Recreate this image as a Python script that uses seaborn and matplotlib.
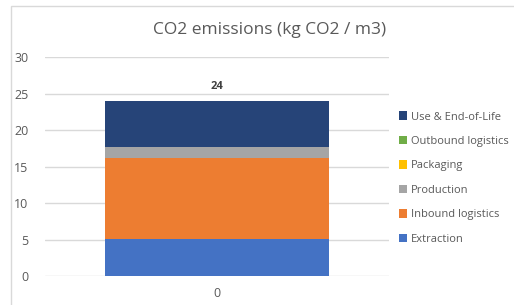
import matplotlib
matplotlib.use("Agg")
import matplotlib.pyplot as plt
import seaborn as sns
import pandas as pd
from matplotlib.patches import Rectangle, Patch

# stages, bottom to top
stages = ["Extraction", "Inbound logistics", "Production", "Packaging",
          "Outbound logistics", "Use & End-of-Life"]
values = [5.1, 11.1, 1.5, 0.0, 0.0, 6.3]
colors = ["#4472c4", "#ed7d31", "#a5a5a5", "#ffc000", "#70ad47", "#264478"]
category = ["0"]

sns.set_style("white")
plt.rcParams["font.family"] = ["Open Sans", "DejaVu Sans"]
text_col = "#595959"

fig = plt.figure(figsize=(5.14, 3.05), dpi=100)
ax = fig.add_axes([0.0875, 0.095, 0.67, 0.718])

# chart border
fig.patches.append(Rectangle((11 / 514, -0.02), 1.0, 1 - 6 / 305 + 0.02,
                             transform=fig.transFigure, fill=False,
                             edgecolor="#d9d9d9", linewidth=1))

bottom = 0.0
for stage, val, col in zip(stages, values, colors):
    df = pd.DataFrame({"cat": category, "val": [val]})
    sns.barplot(data=df, x="cat", y="val", color=col, width=0.65,
                bottom=bottom, ax=ax, saturation=1, linewidth=0)
    bottom += val

total = sum(values)
ax.text(0, total + 1.2, f"{total:.0f}", ha="center", va="bottom",
        fontsize=8, fontweight="bold", color="#404040")

ax.set_ylim(0, 30)
ax.set_xlim(-0.5, 0.5)
ax.set_yticks(range(0, 31, 5))
ax.yaxis.grid(True, color="#d9d9d9", linewidth=1)
ax.set_axisbelow(True)
for s in ax.spines.values():
    s.set_visible(False)
ax.tick_params(axis="both", length=0, labelsize=9, labelcolor=text_col)
ax.tick_params(axis="y", pad=12)
ax.tick_params(axis="x", pad=8)
ax.set_xlabel("")
ax.set_ylabel("")

fig.text(0.525, 0.9, "CO2 emissions (kg CO2 / m3)", ha="center",
         va="center", fontsize=12.5, color=text_col)

handles = [Patch(facecolor=c, edgecolor="none") for c in colors][::-1]
leg = fig.legend(handles, stages[::-1], loc="center left",
                 bbox_to_anchor=(0.756, 0.416), frameon=False, fontsize=8,
                 handlelength=0.8, handleheight=0.8, handletextpad=0.3,
                 labelspacing=1.2, labelcolor=text_col)

fig.savefig("out.png", dpi=100)
